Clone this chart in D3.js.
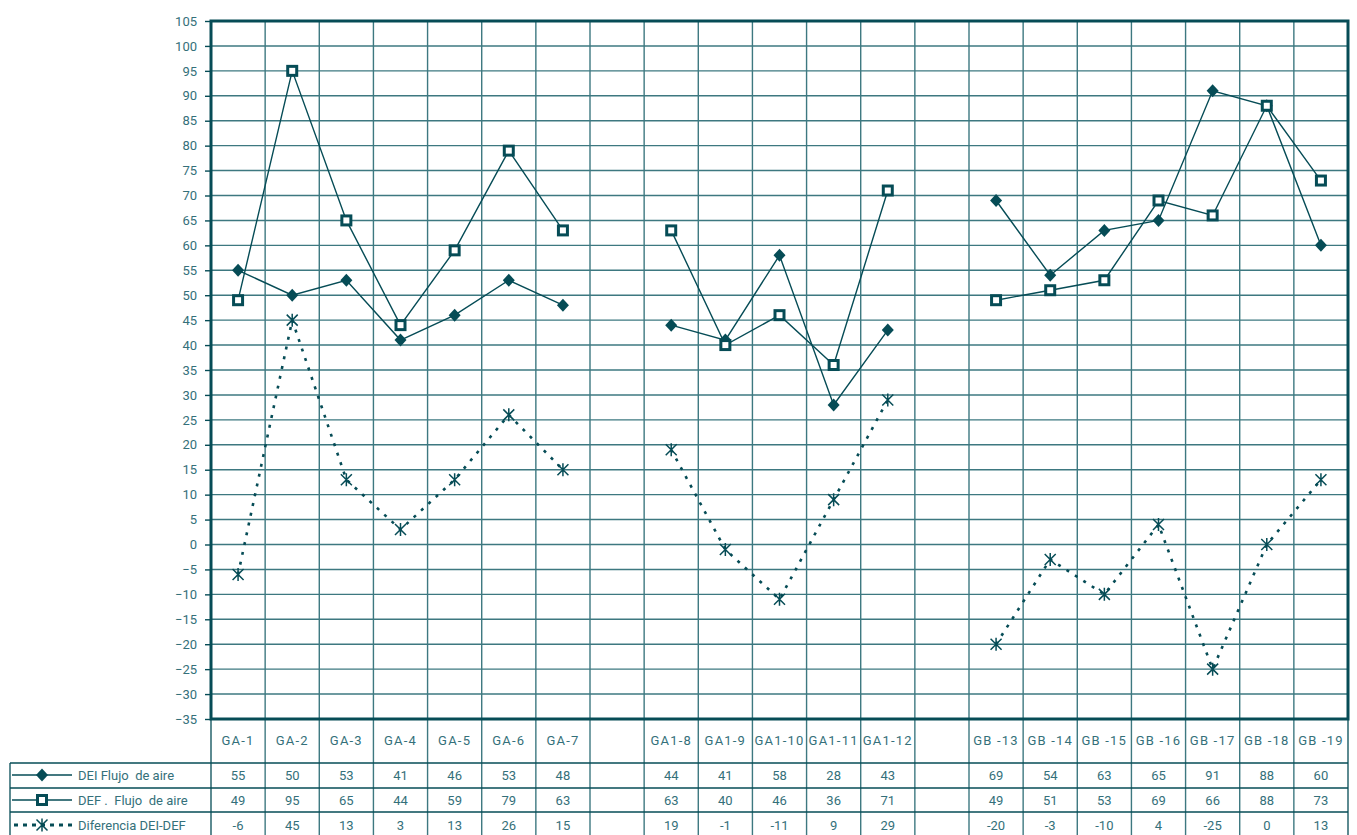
<!DOCTYPE html>
<html>
<head>
<meta charset="utf-8">
<script src="https://cdn.jsdelivr.net/npm/d3@7"></script>
<style>
  body { margin: 0; background: #fff; }
  svg { display: block; font-family: Roboto, "DejaVu Sans", sans-serif; }
</style>
</head>
<body>
<svg id="chart" width="1357" height="835"></svg>
<script>
// Sample points (blank entries separate the three groups)
const categories = ["GA-1","GA-2","GA-3","GA-4","GA-5","GA-6","GA-7","",
  "GA1-8","GA1-9","GA1-10","GA1-11","GA1-12","",
  "GB -13","GB -14","GB -15","GB -16","GB -17","GB -18","GB -19"];
const deiValues = [55,50,53,41,46,53,48,null,44,41,58,28,43,null,69,54,63,65,91,88,60];
const defValues = [49,95,65,44,59,79,63,null,63,40,46,36,71,null,49,51,53,69,66,88,73];
const diffValues = [-6,45,13,3,13,26,15,null,19,-1,-11,9,29,null,-20,-3,-10,4,-25,0,13];
const seriesNames = ["DEI Flujo  de aire","DEF .  Flujo  de aire","Diferencia DEI-DEF"];
const yTicks = d3.range(-35, 106, 5);

const dark = "#064c56";
const grid = "#3d7880";
const textCol = "#34707a";

const svg = d3.select("#chart");
const pLeft = 211, pRight = 1348, pTop = 21, pBottom = 719;

const x = d3.scaleBand().domain(d3.range(categories.length)).range([pLeft, pRight]);
const y = d3.scaleLinear().domain([-35, 105]).range([pBottom, pTop]);

// Horizontal grid
svg.append("g").selectAll("line").data(yTicks).join("line")
  .attr("x1", pLeft).attr("x2", pRight)
  .attr("y1", d => y(d)).attr("y2", d => y(d))
  .attr("stroke", grid).attr("stroke-width", 1.4);

// Vertical grid through plot and table
const bounds = d3.range(1, categories.length).map(i => x(i));
svg.append("g").selectAll("line").data(bounds).join("line")
  .attr("x1", d => d).attr("x2", d => d)
  .attr("y1", pTop).attr("y2", 835)
  .attr("stroke", grid).attr("stroke-width", 1.4);

// Y axis
const yAxis = d3.axisLeft(y).tickValues(yTicks).tickSize(6).tickPadding(8);
const ga = svg.append("g").attr("transform", `translate(${pLeft},0)`).call(yAxis);
ga.select(".domain").remove();
ga.selectAll(".tick line").attr("stroke", dark).attr("stroke-width", 1.4);
ga.selectAll(".tick text").attr("fill", textCol).attr("font-size", 13)
  .attr("font-family", "Roboto, sans-serif");

// Plot frame
svg.append("rect").attr("x", pLeft).attr("y", pTop)
  .attr("width", pRight - pLeft).attr("height", pBottom - pTop)
  .attr("fill", "none").attr("stroke", dark).attr("stroke-width", 3);

// Table lines
const rowLines = [763, 788, 812];
svg.append("g").selectAll("line").data(rowLines).join("line")
  .attr("x1", 10).attr("x2", pRight).attr("y1", d => d).attr("y2", d => d)
  .attr("stroke", dark).attr("stroke-width", 1.3);
svg.append("line").attr("x1", 10).attr("x2", 10).attr("y1", 763).attr("y2", 835)
  .attr("stroke", dark).attr("stroke-width", 1.3);
svg.append("line").attr("x1", pLeft).attr("x2", pLeft).attr("y1", pBottom).attr("y2", 835)
  .attr("stroke", dark).attr("stroke-width", 1.3);
svg.append("line").attr("x1", pRight).attr("x2", pRight).attr("y1", pBottom).attr("y2", 835)
  .attr("stroke", dark).attr("stroke-width", 1.3);

// Category labels
svg.append("g").selectAll("text").data(categories).join("text")
  .attr("x", (d, i) => x(i) + x.bandwidth() / 2).attr("y", 745)
  .attr("text-anchor", "middle").attr("fill", textCol)
  .attr("font-size", 13).attr("letter-spacing", 1.2)
  .text(d => d);

// Table values
const rows = [deiValues, defValues, diffValues];
const rowY = [780, 805, 830];
rows.forEach((vals, r) => {
  svg.append("g").selectAll("text").data(vals).join("text")
    .attr("x", (d, i) => x(i) + x.bandwidth() / 2).attr("y", rowY[r])
    .attr("text-anchor", "middle").attr("fill", textCol).attr("font-size", 13)
    .text(d => d === null ? "" : d);
});

// Marker shapes
function diamond(g, cx, cy) {
  g.append("path").attr("d", `M${cx},${cy - 6.5}L${cx + 6},${cy}L${cx},${cy + 6.5}L${cx - 6},${cy}Z`)
    .attr("fill", dark);
}
function square(g, cx, cy) {
  g.append("rect").attr("x", cx - 4.5).attr("y", cy - 4.5).attr("width", 9).attr("height", 9)
    .attr("fill", "#fff").attr("stroke", dark).attr("stroke-width", 3);
}
function star(g, cx, cy) {
  const s = 5.5;
  g.append("path").attr("d",
    `M${cx - s},${cy - s}L${cx + s},${cy + s}M${cx - s},${cy + s}L${cx + s},${cy - s}M${cx},${cy - s - 1}L${cx},${cy + s + 1}`)
    .attr("stroke", dark).attr("stroke-width", 1.5).attr("fill", "none");
}

const cx = i => x(i) + x.bandwidth() / 2;
const line = d3.line().defined(d => d.v !== null).x(d => cx(d.i)).y(d => y(d.v));
const toPts = vals => vals.map((v, i) => ({ v, i }));

// Difference series (dotted)
svg.append("path").datum(toPts(diffValues)).attr("d", line)
  .attr("fill", "none").attr("stroke", dark).attr("stroke-width", 2.6)
  .attr("stroke-dasharray", "3,7");
// DEF series
svg.append("path").datum(toPts(defValues)).attr("d", line)
  .attr("fill", "none").attr("stroke", dark).attr("stroke-width", 1.4);
// DEI series
svg.append("path").datum(toPts(deiValues)).attr("d", line)
  .attr("fill", "none").attr("stroke", dark).attr("stroke-width", 1.4);

const mg = svg.append("g");
diffValues.forEach((v, i) => { if (v !== null) star(mg, cx(i), y(v)); });
deiValues.forEach((v, i) => { if (v !== null) diamond(mg, cx(i), y(v)); });
defValues.forEach((v, i) => { if (v !== null) square(mg, cx(i), y(v)); });

// Legend keys in the table
const lg = svg.append("g");
rowY.forEach((ry, r) => {
  const ly = ry - 5;
  if (r < 2) {
    lg.append("line").attr("x1", 12).attr("x2", 72).attr("y1", ly).attr("y2", ly)
      .attr("stroke", dark).attr("stroke-width", 1.3);
    if (r === 0) diamond(lg, 42, ly); else square(lg, 42, ly);
  } else {
    lg.append("line").attr("x1", 14).attr("x2", 72).attr("y1", ly).attr("y2", ly)
      .attr("stroke", dark).attr("stroke-width", 3).attr("stroke-dasharray", "4,5");
    star(lg, 42, ly);
  }
  lg.append("text").attr("x", 78).attr("y", ry).attr("fill", textCol)
    .attr("font-size", 13).style("white-space", "pre").text(seriesNames[r]);
});
</script>
</body>
</html>
